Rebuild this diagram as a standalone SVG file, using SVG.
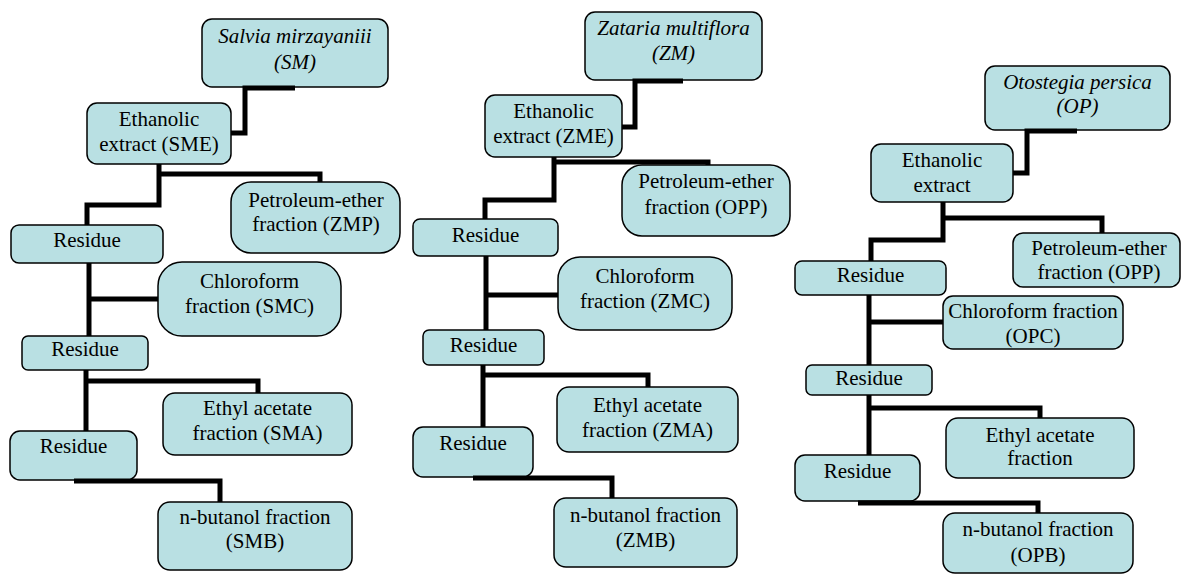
<svg xmlns="http://www.w3.org/2000/svg" width="1181" height="574" viewBox="0 0 1181 574">
<style>
.box{fill:#b9e0e3;stroke:#000;stroke-width:1.5}
.t{font-size:21px;text-anchor:middle;fill:#000}
.i{font-style:italic}
.c{fill:none;stroke:#000;stroke-width:5;stroke-linejoin:miter;stroke-linecap:butt}
</style>
<rect width="1181" height="574" fill="#fff"/>
<g font-family="'Liberation Serif', 'Times New Roman', Times, serif">
<!-- Column 1 -->
<g id="SM"><rect class="box" x="202" y="19" width="186" height="68" rx="10"/><text class="t i" x="295" y="43">Salvia mirzayaniii</text><text class="t i" x="295" y="69">(SM)</text></g>
<g id="SME"><rect class="box" x="87" y="103" width="144" height="61" rx="10"/><text class="t" x="159" y="126">Ethanolic</text><text class="t" x="159" y="151">extract (SME)</text></g>
<g id="ZMP"><rect class="box" x="231" y="182" width="169" height="71" rx="20"/><text class="t" x="316" y="207">Petroleum-ether</text><text class="t" x="316" y="231">fraction (ZMP)</text></g>
<g id="SM-R1"><rect class="box" x="11" y="225" width="152" height="38" rx="8"/><text class="t" x="87" y="247">Residue</text></g>
<g id="SMC"><rect class="box" x="158" y="262" width="183" height="74" rx="24"/><text class="t" x="249.5" y="288">Chloroform</text><text class="t" x="249.5" y="313">fraction (SMC)</text></g>
<g id="SM-R2"><rect class="box" x="22" y="336" width="126" height="34" rx="6"/><text class="t" x="85" y="356">Residue</text></g>
<g id="SMA"><rect class="box" x="163" y="393" width="189" height="62" rx="12"/><text class="t" x="257.5" y="415">Ethyl acetate</text><text class="t" x="257.5" y="440">fraction (SMA)</text></g>
<g id="SM-R3"><rect class="box" x="10" y="431" width="127" height="49" rx="10"/><text class="t" x="73.5" y="453">Residue</text></g>
<g id="SMB"><rect class="box" x="158" y="502" width="194" height="68" rx="12"/><text class="t" x="255" y="524">n-butanol fraction</text><text class="t" x="255" y="548">(SMB)</text></g>
<!-- Column 2 -->
<g id="ZM"><rect class="box" x="585" y="12" width="177" height="68" rx="10"/><text class="t i" x="673.5" y="35">Zataria multiflora</text><text class="t i" x="673.5" y="60">(ZM)</text></g>
<g id="ZME"><rect class="box" x="485" y="95" width="137" height="62" rx="10"/><text class="t" x="553.5" y="118">Ethanolic</text><text class="t" x="553.5" y="143">extract (ZME)</text></g>
<g id="ZM-OPP"><rect class="box" x="622" y="165" width="168" height="71" rx="20"/><text class="t" x="706" y="188">Petroleum-ether</text><text class="t" x="706" y="214">fraction (OPP)</text></g>
<g id="ZM-R1"><rect class="box" x="413" y="219" width="145" height="37" rx="7"/><text class="t" x="485.5" y="242">Residue</text></g>
<g id="ZMC"><rect class="box" x="558" y="257" width="174" height="73" rx="22"/><text class="t" x="645" y="283">Chloroform</text><text class="t" x="645" y="308">fraction (ZMC)</text></g>
<g id="ZM-R2"><rect class="box" x="423" y="330" width="121" height="35" rx="6"/><text class="t" x="483.5" y="352">Residue</text></g>
<g id="ZMA"><rect class="box" x="557" y="387" width="181" height="65" rx="12"/><text class="t" x="647.5" y="412">Ethyl acetate</text><text class="t" x="647.5" y="437">fraction (ZMA)</text></g>
<g id="ZM-R3"><rect class="box" x="413" y="427" width="120" height="50" rx="10"/><text class="t" x="473" y="450">Residue</text></g>
<g id="ZMB"><rect class="box" x="554" y="498" width="183" height="69" rx="12"/><text class="t" x="645.5" y="522">n-butanol fraction</text><text class="t" x="645.5" y="547">(ZMB)</text></g>
<!-- Column 3 -->
<g id="OP"><rect class="box" x="985" y="66" width="185" height="64" rx="10"/><text class="t i" x="1077.5" y="89">Otostegia persica</text><text class="t i" x="1077.5" y="113">(OP)</text></g>
<g id="OPE"><rect class="box" x="871" y="144" width="142" height="58" rx="10"/><text class="t" x="942" y="167">Ethanolic</text><text class="t" x="942" y="192">extract</text></g>
<g id="OPP"><rect class="box" x="1013" y="233" width="167" height="54" rx="10"/><text class="t" x="1099" y="255">Petroleum-ether</text><text class="t" x="1099" y="279">fraction (OPP)</text></g>
<g id="OP-R1"><rect class="box" x="795" y="261" width="151" height="34" rx="7"/><text class="t" x="870.5" y="282">Residue</text></g>
<g id="OPC"><rect class="box" x="943" y="296" width="180" height="53" rx="10"/><text class="t" x="1033" y="318">Chloroform fraction</text><text class="t" x="1033" y="343">(OPC)</text></g>
<g id="OP-R2"><rect class="box" x="806" y="365" width="126" height="30" rx="6"/><text class="t" x="869" y="385">Residue</text></g>
<g id="OPA"><rect class="box" x="946" y="418" width="188" height="60" rx="12"/><text class="t" x="1040" y="442">Ethyl acetate</text><text class="t" x="1040" y="465">fraction</text></g>
<g id="OP-R3"><rect class="box" x="795" y="455" width="125" height="46" rx="10"/><text class="t" x="857.5" y="478">Residue</text></g>
<g id="OPB"><rect class="box" x="943" y="513" width="190" height="60" rx="12"/><text class="t" x="1038" y="536">n-butanol fraction</text><text class="t" x="1038" y="562">(OPB)</text></g>
</g>
<!-- Connectors -->
<g id="connectors" class="c">
<path class="c" d="M295,88 H245 V133 H231"/>
<path class="c" d="M159,164 V205 H87 V225"/>
<path class="c" d="M159,174 H320 V182"/>
<path class="c" d="M89,263 V336"/>
<path class="c" d="M89,299 H158"/>
<path class="c" d="M86,370 V431"/>
<path class="c" d="M86,381 H258 V393"/>
<path class="c" d="M74,481 H220 V502"/>
<path class="c" d="M683,81 H635 V127 H622"/>
<path class="c" d="M554,157 V200 H485 V219"/>
<path class="c" d="M554,162 H708 V165"/>
<path class="c" d="M486,256 V330"/>
<path class="c" d="M486,295 H558"/>
<path class="c" d="M483,365 V427"/>
<path class="c" d="M483,375 H648 V387"/>
<path class="c" d="M473,478 H612 V498"/>
<path class="c" d="M1077,131 H1027 V173 H1013"/>
<path class="c" d="M943,202 V240 H871 V261"/>
<path class="c" d="M943,218 H1102 V233"/>
<path class="c" d="M869,295 V365"/>
<path class="c" d="M869,322 H943"/>
<path class="c" d="M869,395 V455"/>
<path class="c" d="M869,408 H1040 V418"/>
<path class="c" d="M858,503 H1038 V513"/>
</g>
</svg>
